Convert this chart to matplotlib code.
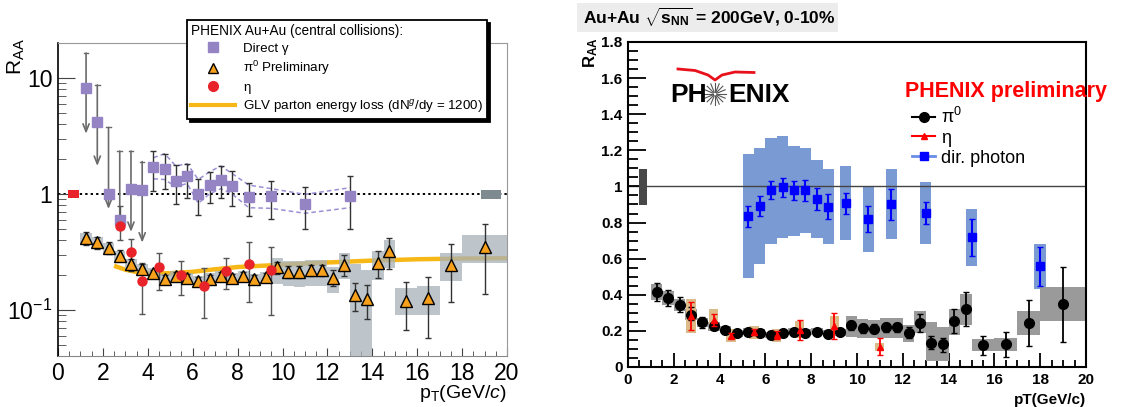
import numpy as np
import matplotlib
matplotlib.use('Agg')
import matplotlib.pyplot as plt
from matplotlib.lines import Line2D
from matplotlib.patches import Rectangle
from matplotlib.ticker import MultipleLocator

plt.rcParams['font.family'] = ['Liberation Sans', 'DejaVu Sans']
plt.rcParams['mathtext.fontset'] = 'custom'
plt.rcParams['mathtext.rm'] = 'Liberation Sans'
plt.rcParams['mathtext.it'] = 'Liberation Sans:italic'
plt.rcParams['mathtext.bf'] = 'Liberation Sans:bold'

# --- pi0 R_AA (shared by both panels) ---
pi0_pt = [1.25, 1.75, 2.25, 2.75, 3.25, 3.75, 4.25, 4.75, 5.25, 5.75, 6.25, 6.75, 7.25, 7.75,
          8.25, 8.75, 9.25, 9.75, 10.25, 10.75, 11.25, 11.75, 12.25, 12.75, 13.25, 13.75,
          14.25, 14.75, 15.5, 16.5, 17.5, 19.0]
pi0_bin_width = [0.5] * 28 + [1.0, 1.0, 1.0, 2.0]
pi0_raa = [0.415, 0.382, 0.343, 0.29, 0.247, 0.225, 0.207, 0.186, 0.196, 0.188, 0.177, 0.186,
           0.195, 0.189, 0.195, 0.184, 0.192, 0.232, 0.214, 0.213, 0.221, 0.221, 0.19, 0.246,
           0.134, 0.125, 0.255, 0.32, 0.12, 0.127, 0.246, 0.348]
pi0_stat_dn = [0.05, 0.046, 0.038, 0.028, 0.029, 0.02, 0.012, 0.012, 0.012, 0.012, 0.012, 0.012,
               0.012, 0.012, 0.012, 0.012, 0.012, 0.028, 0.025, 0.025, 0.025, 0.025, 0.03, 0.052,
               0.037, 0.041, 0.068, 0.094, 0.053, 0.07, 0.13, 0.21]
pi0_stat_up = [0.05, 0.046, 0.045, 0.04, 0.03, 0.025, 0.015, 0.015, 0.015, 0.015, 0.015, 0.015,
               0.015, 0.015, 0.015, 0.015, 0.015, 0.025, 0.025, 0.025, 0.025, 0.025, 0.03, 0.05,
               0.037, 0.038, 0.068, 0.094, 0.053, 0.066, 0.127, 0.206]
pi0_sys_dn = [0.042, 0.04, 0.035, 0.03, 0.026, 0.024, 0.021, 0.019, 0.02, 0.02, 0.019, 0.02,
              0.02, 0.02, 0.02, 0.02, 0.02, 0.065, 0.055, 0.055, 0.06, 0.06, 0.05, 0.06,
              0.1, 0.092, 0.075, 0.09, 0.03, 0.037, 0.07, 0.093]
pi0_sys_up = [0.042, 0.04, 0.035, 0.03, 0.026, 0.024, 0.021, 0.019, 0.02, 0.02, 0.019, 0.02,
              0.02, 0.02, 0.02, 0.02, 0.02, 0.05, 0.05, 0.05, 0.048, 0.048, 0.042, 0.062,
              0.115, 0.096, 0.065, 0.083, 0.033, 0.033, 0.062, 0.095]

# --- left panel: direct gamma, upper limits at low pT ---
gamma_ul_pt = [1.25, 1.75, 2.25, 2.75, 3.25, 3.75]
gamma_ul_raa = [8.2, 4.16, 0.99, 0.59, 1.10, 1.07]
gamma_ul_top = [16.4, 8.7, 3.74, 2.34, 2.34, 1.9]
gamma_ul_end = [3.3, 1.74, 0.74, 0.47, 0.47, 0.38]

# --- left panel: direct gamma measured points ---
gamma_pt = [4.25, 4.75, 5.25, 5.75, 6.25, 6.75, 7.25, 7.75, 8.5, 9.5, 11.0, 13.0]
gamma_raa = [1.71, 1.65, 1.29, 1.43, 1.0, 1.19, 1.33, 1.17, 0.94, 0.95, 0.82, 0.95]
gamma_err_hi = [2.34, 2.19, 1.77, 1.82, 1.35, 1.55, 1.74, 1.56, 1.25, 1.30, 1.14, 1.43]
gamma_err_lo = [1.06, 1.10, 0.82, 0.93, 0.66, 0.83, 0.93, 0.79, 0.65, 0.61, 0.50, 0.50]
gamma_sys_hi = [2.05, 2.22, 1.74, 1.82, 1.33, 1.55, 1.74, 1.5, 1.19, 1.11, 0.99, 1.13]
gamma_sys_lo = [1.35, 1.33, 1.15, 1.23, 0.83, 1.0, 1.11, 1.0, 0.76, 0.75, 0.68, 0.76]

# --- left panel: eta ---
eta_l_pt = [2.75, 3.25, 3.75, 4.5, 5.5, 6.5, 7.5, 8.5, 9.5]
eta_l_raa = [0.53, 0.317, 0.178, 0.234, 0.199, 0.16, 0.215, 0.248, 0.221]
eta_l_err_hi = [0.78, 0.41, 0.255, 0.307, 0.264, 0.231, 0.278, 0.384, 0.35]
eta_l_err_lo = [0.40, 0.255, 0.093, 0.149, 0.134, 0.085, 0.151, 0.116, 0.091]

# --- left panel: GLV parton energy loss curve ---
glv_pt = [2.5, 3.0, 3.5, 4.0, 5.0, 6.0, 7.0, 8.0, 10.0, 12.0, 14.0, 16.0, 18.0, 20.0]
glv_raa = [0.24, 0.222, 0.212, 0.206, 0.207, 0.213, 0.224, 0.234, 0.245, 0.256, 0.266, 0.273,
           0.277, 0.279]

# normalisation uncertainty boxes at R_AA = 1 (left panel)
norm_l_pt = [0.7, 19.3]
norm_l_width = [0.5, 0.9]
norm_l_lo = [0.93, 0.91]
norm_l_hi = [1.075, 1.075]

# --- right panel: eta ---
eta_r_pt = [2.75, 3.75, 4.5, 5.5, 6.5, 7.5, 9.0, 11.0]
eta_r_raa = [0.282, 0.262, 0.174, 0.192, 0.177, 0.207, 0.229, 0.111]
eta_r_stat_dn = [0.075, 0.035, 0.012, 0.015, 0.022, 0.056, 0.076, 0.046]
eta_r_stat_up = [0.078, 0.033, 0.012, 0.02, 0.022, 0.055, 0.071, 0.051]
eta_r_sys = [0.092, 0.058, 0.037, 0.037, 0.036, 0.046, 0.053, 0.021]

# --- right panel: direct photon ---
photon_pt = [5.25, 5.75, 6.25, 6.75, 7.25, 7.75, 8.25, 8.75, 9.5, 10.5, 11.5, 13.0, 15.0, 18.0]
photon_raa = [0.834, 0.892, 0.978, 0.995, 0.978, 0.978, 0.932, 0.888, 0.908, 0.82, 0.901, 0.853,
              0.718, 0.558]
photon_stat = [0.058, 0.055, 0.05, 0.054, 0.054, 0.057, 0.061, 0.068, 0.058, 0.073, 0.086, 0.062,
               0.104, 0.107]
photon_sys_top = [1.178, 1.215, 1.27, 1.277, 1.226, 1.215, 1.148, 1.098, 1.111, 1.0, 1.095, 1.023,
                  0.873, 0.679]
photon_sys_bot = [0.495, 0.570, 0.679, 0.713, 0.724, 0.742, 0.713, 0.679, 0.701, 0.637, 0.709,
                  0.679, 0.559, 0.432]

# normalisation box (right panel)
norm_r_pt = 0.65
norm_r_lo = 0.895
norm_r_hi = 1.095

W, H = 1128, 407
fig = plt.figure(figsize=(W / 100, H / 100), dpi=100)


def fx(x):
    return x / W


def fy(y):
    return 1 - y / H


axL = fig.add_axes([fx(58), fy(356), 449 / W, 313 / H])
axR = fig.add_axes([fx(628), fy(367), 458 / W, 325 / H])

# ================= left panel =================
pi0 = np.array(pi0_raa)
axL.set_yscale('log')
axL.axhline(1, color='black', ls=(0, (1.2, 1.6)), lw=1.4, zorder=1)
axL.bar(norm_l_pt, np.subtract(norm_l_hi, norm_l_lo), bottom=norm_l_lo, width=norm_l_width,
        color=['#e8232a', '#7d8a90'], zorder=2)

axL.plot(glv_pt, glv_raa, color='#f7b716', lw=3.2, solid_capstyle='butt', zorder=2)
axL.bar(pi0_pt, np.add(pi0_sys_up, pi0_sys_dn), bottom=pi0 - np.array(pi0_sys_dn),
        width=pi0_bin_width, color='#a7b2b9', alpha=0.75, zorder=3)

# direct gamma upper limits
for x, top, end in zip(gamma_ul_pt, gamma_ul_top, gamma_ul_end):
    axL.annotate('', xy=(x, end), xytext=(x, top),
                 arrowprops=dict(arrowstyle='->,head_length=0.55,head_width=0.22', color='#6a6a6a',
                                 lw=1.2, shrinkA=0, shrinkB=0), zorder=4)
    axL.plot([x - 0.1, x + 0.1], [top, top], color='#6a6a6a', lw=1.0, zorder=4)
axL.plot(gamma_ul_pt, gamma_ul_raa, ls='none', marker='s', ms=7.5, color='#9584c4', zorder=6)

g = np.array(gamma_raa)
axL.plot(gamma_pt, gamma_sys_hi, ls=(0, (3, 2)), color='#9b8fd6', lw=1.1, zorder=3)
axL.plot(gamma_pt, gamma_sys_lo, ls=(0, (3, 2)), color='#9b8fd6', lw=1.1, zorder=3)
axL.errorbar(gamma_pt, gamma_raa, yerr=[g - np.array(gamma_err_lo), np.array(gamma_err_hi) - g],
             fmt='none', ecolor='#333333', elinewidth=1.0, capsize=2, zorder=4)
axL.plot(gamma_pt, gamma_raa, ls='none', marker='s', ms=7.5, color='#9584c4', zorder=6)

axL.errorbar(pi0_pt, pi0_raa, yerr=[pi0_stat_dn, pi0_stat_up], fmt='none', ecolor='#333333',
             elinewidth=1.0, capsize=2, zorder=4)
axL.plot(pi0_pt, pi0_raa, ls='none', marker='^', ms=8, mfc='#f7a01c', mec='black', mew=1.0,
         zorder=6)

e = np.array(eta_l_raa)
axL.errorbar(eta_l_pt, eta_l_raa, yerr=[e - np.array(eta_l_err_lo), np.array(eta_l_err_hi) - e],
             fmt='none', ecolor='#555555', elinewidth=1.0, capsize=2, zorder=4)
axL.plot(eta_l_pt, eta_l_raa, ls='none', marker='o', ms=6.5, color='#e8232a', zorder=7)

axL.set_xlim(0, 20)
axL.set_ylim(0.04, 20)
axL.xaxis.set_major_locator(MultipleLocator(2))
axL.xaxis.set_minor_locator(MultipleLocator(0.5))
axL.set_yticks([0.1, 1, 10], labels=[r'10$^{-1}$', '1', '10'])
axL.tick_params(axis='both', which='both', direction='in', labelsize=16.5, pad=4, color='#444444')
axL.tick_params(axis='x', which='major', length=6)
axL.tick_params(axis='x', which='minor', length=3.5)
axL.tick_params(axis='y', which='major', length=12)
axL.tick_params(axis='y', which='minor', length=6)
for side in ['top', 'right']:
    axL.spines[side].set_color('#999999')
axL.spines['bottom'].set_color('#888888')
axL.spines['left'].set_color('black')
axL.spines['left'].set_linewidth(1.2)

fig.text(fx(16), fy(57), r'R$_{\mathrm{AA}}$', rotation=90, fontsize=15, ha='center', va='center')
fig.text(fx(507), fy(393), r'p$_{\mathrm{T}}$(GeV/$c$)', fontsize=14, ha='right', va='center')

handles_l = [
    Line2D([], [], ls='none', marker='s', ms=7, color='#9584c4'),
    Line2D([], [], ls='none', marker='^', ms=7.5, mfc='#f7a01c', mec='black'),
    Line2D([], [], ls='none', marker='o', ms=7, color='#e8232a'),
    Line2D([], [], color='#f7b716', lw=3),
]
labels_l = ['Direct γ', r'π$^{0}$ Preliminary', 'η', r'GLV parton energy loss (dN$^{g}$/dy = 1200)']
leg = axL.legend(handles_l, labels_l, title='PHENIX Au+Au (central collisions):',
                 loc='upper left', bbox_to_anchor=(0.287, 1.073), alignment='left',
                 fancybox=False, shadow={'color': 'black', 'alpha': 1}, edgecolor='black',
                 framealpha=1, fontsize=9.6, title_fontsize=9.8, handlelength=3.3,
                 handletextpad=0.6, labelspacing=0.32, borderpad=0.3, borderaxespad=0)
leg.get_frame().set_linewidth(1.3)
leg.set_zorder(20)

# ================= right panel =================
axR.bar(photon_pt, np.subtract(photon_sys_top, photon_sys_bot), bottom=photon_sys_bot, width=0.5,
        color='#7a9ad4', zorder=1)
axR.axhline(1, color='#444444', lw=1.0, zorder=1.5)
axR.bar([norm_r_pt], [norm_r_hi - norm_r_lo], bottom=[norm_r_lo], width=0.36, color='#484848',
        zorder=2)
axR.bar(pi0_pt, np.add(pi0_sys_up, pi0_sys_dn), bottom=pi0 - np.array(pi0_sys_dn),
        width=pi0_bin_width, color='#9a9a9a', zorder=2)
er = np.array(eta_r_raa)
axR.bar(eta_r_pt, 2 * np.array(eta_r_sys), bottom=er - np.array(eta_r_sys), width=0.4,
        color='#dcbb88', zorder=3)

axR.errorbar(pi0_pt, pi0_raa, yerr=[pi0_stat_dn, pi0_stat_up], fmt='o', color='black', ms=7,
             elinewidth=1.3, capsize=2, zorder=4)
axR.errorbar(eta_r_pt, eta_r_raa, yerr=[eta_r_stat_dn, eta_r_stat_up], fmt='^', color='#ff0000',
             ms=5, elinewidth=1.3, capsize=2, zorder=5)
axR.errorbar(photon_pt, photon_raa, yerr=photon_stat, fmt='s', color='#0000ff', ms=5.5,
             elinewidth=1.5, capsize=2.5, zorder=4)

axR.set_xlim(0, 20)
axR.set_ylim(0, 1.8)
xt = np.arange(0, 21, 2)
yt = np.arange(0, 1.81, 0.2)
axR.set_xticks(xt, labels=[f'{v:g}' for v in xt], fontweight='bold', fontsize=11)
axR.set_yticks(yt, labels=[f'{v:g}' for v in np.round(yt, 1)], fontweight='bold', fontsize=11)
axR.xaxis.set_minor_locator(MultipleLocator(0.5))
axR.yaxis.set_minor_locator(MultipleLocator(0.05))
axR.tick_params(axis='both', which='both', direction='in', pad=4, width=1.3)
axR.tick_params(axis='x', which='major', length=10)
axR.tick_params(axis='x', which='minor', length=5)
axR.tick_params(axis='y', which='major', length=13)
axR.tick_params(axis='y', which='minor', length=7)
for side in axR.spines:
    axR.spines[side].set_linewidth(1.5)

axR.text(0.825, 0.849, 'PHENIX preliminary', transform=axR.transAxes, color='#ff0000',
         fontsize=15.5, fontweight='bold', ha='center', va='center')

handles_r = [
    Line2D([], [], color='black', lw=1.5, marker='o', ms=7),
    Line2D([], [], color='#ff0000', lw=1.5, marker='^', ms=5),
    Line2D([], [], color='#6a8ce8', lw=2, marker='s', ms=5.5, mfc='#0000ff', mec='#0000ff'),
]
axR.legend(handles_r, [r'$\mathrm{\pi}^{0}$', 'η', 'dir. photon'], loc='upper left',
           bbox_to_anchor=(0.62, 0.80), frameon=False, fontsize=13, handlelength=1.3,
           handletextpad=0.3, labelspacing=0.15, borderaxespad=0, borderpad=0)

fig.text(fx(591), fy(53), r'$\mathbf{R_{AA}}$', rotation=90, fontsize=12, ha='center', va='center')
fig.text(fx(1086), fy(400), 'pT(GeV/c)', fontsize=11, fontweight='bold', ha='right', va='center')

# title box
fig.add_artist(Rectangle((fx(577), fy(32)), (838 - 577) / W, 29 / H, transform=fig.transFigure,
                         facecolor='#ececec', edgecolor='none'))
fig.text(fx(583), fy(17), r'Au+Au $\mathbf{\sqrt{s_{NN}}}$ = 200GeV, 0-10%', fontsize=12.5,
         fontweight='bold', ha='left', va='center')

# PHENIX logo
fig.text(fx(670), fy(95), 'PH', fontsize=19, fontweight='bold', ha='left', va='center')
fig.text(fx(728), fy(95), 'ENIX', fontsize=19, fontweight='bold', ha='left', va='center')
for ang in np.linspace(0, 2 * np.pi, 16, endpoint=False):
    r0, r1 = 2, 11
    fig.add_artist(Line2D([fx(715 + r0 * np.cos(ang)), fx(715 + r1 * np.cos(ang))],
                          [fy(94 - r0 * np.sin(ang)), fy(94 - r1 * np.sin(ang))],
                          transform=fig.transFigure, color='#555555', lw=0.8))
swoosh_x = [678, 695, 708, 715, 722, 735, 754]
swoosh_y = [69, 70.5, 75, 80, 75, 72, 72.5]
fig.add_artist(Line2D([fx(v) for v in swoosh_x], [fy(v) for v in swoosh_y],
                      transform=fig.transFigure, color='#e8101a', lw=2))

fig.savefig('out.png', dpi=100)
